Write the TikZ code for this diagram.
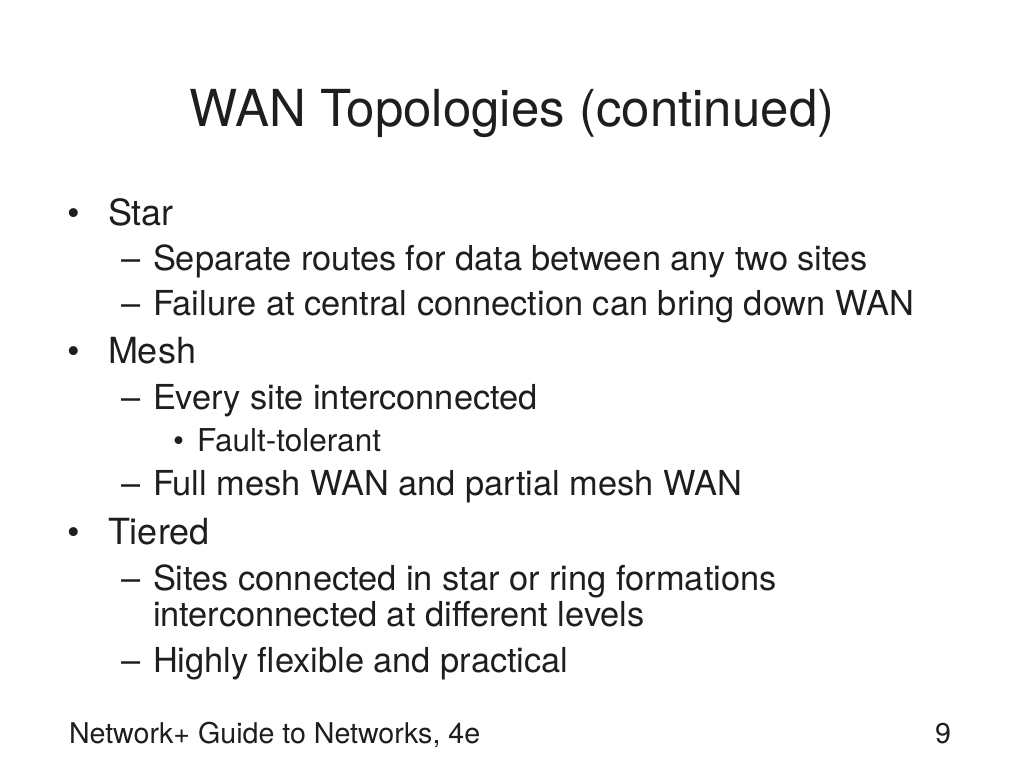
\documentclass[tikz,border=0pt]{standalone}
\usepackage{fontspec}
\setmainfont{TeX Gyre Heros}
\definecolor{txt}{HTML}{1E1E1E}
\begin{document}
\begin{tikzpicture}[x=1pt,y=-1pt,
  every node/.style={inner sep=0pt,outer sep=0pt,anchor=base west,text=txt},
  title/.style={font=\fontsize{51}{60}\selectfont,anchor=base},
  lvlone/.style={font=\fontsize{36}{43}\selectfont},
  lvltwo/.style={font=\fontsize{34.4}{41}\selectfont},
  lvlthree/.style={font=\fontsize{31.5}{37}\selectfont},
  foot/.style={font=\fontsize{28.6}{34}\selectfont}]
%
  \useasboundingbox (0,0) rectangle (1024,768);
  \node (title) at (512,126) [title] {WAN Topologies (continued)};
  % star
  \node (bstar) at (67,225) [lvlone] {•};
  \node (star) at (108,225) [lvlone] {Star};
  \node (dsep) at (121,270) [lvltwo] {–};
  \node (sep) at (153,270) [lvltwo] {Separate routes for data between any two sites};
  \node (dfail) at (121,315) [lvltwo] {–};
  \node (fail) at (153,315) [lvltwo] {Failure at central connection can bring down WAN};
  % mesh
  \node (bmesh) at (67,363) [lvlone] {•};
  \node (mesh) at (108,363) [lvlone] {Mesh};
  \node (devery) at (121,409) [lvltwo] {–};
  \node (every) at (153,409) [lvltwo] {Every site interconnected};
  \node (bfault) at (173,451) [lvlthree] {•};
  \node (fault) at (197,451) [lvlthree] {Fault-tolerant};
  \node (dfull) at (121,495) [lvltwo] {–};
  \node (full) at (153,495) [lvltwo] {Full mesh WAN and partial mesh WAN};
  % tiered
  \node (btier) at (67,544) [lvlone] {•};
  \node (tier) at (108,544) [lvlone] {Tiered};
  \node (dsites) at (121,590) [lvltwo] {–};
  \node (sites) at (153,590) [lvltwo] {Sites connected in star or ring formations};
  \node (sitestwo) at (153,626) [lvltwo] {interconnected at different levels};
  \node (dhigh) at (121,672) [lvltwo] {–};
  \node (high) at (153,672) [lvltwo] {Highly flexible and practical};
  % footer
  \node (book) at (69,743) [foot] {Network+ Guide to Networks, 4e};
  \node (page) at (951,743) [foot,anchor=base east] {9};
%
\end{tikzpicture}
\end{document}
